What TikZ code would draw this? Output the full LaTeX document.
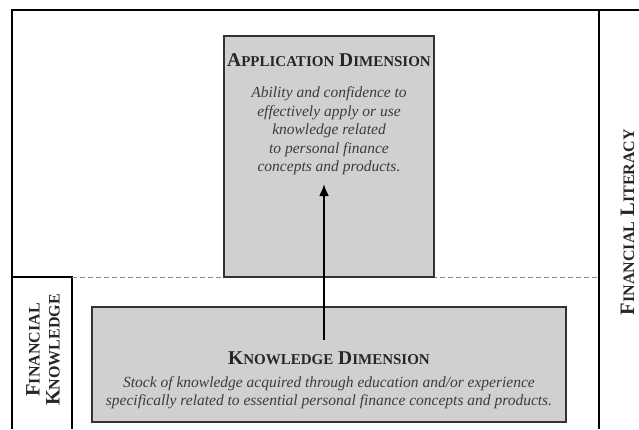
\documentclass[tikz,border=0pt]{standalone}
\usepackage{fontspec}
\setmainfont{Liberation Serif}
\usetikzlibrary{arrows.meta}
\definecolor{boxgray}{HTML}{D0D0D0}
\definecolor{inkgray}{HTML}{3C3C3C}
% fake small caps: big first letter, smaller rest
\newcommand{\smc}[3][15]{#2{\fontsize{#1}{#1}\selectfont #3}}
\begin{document}
\begin{tikzpicture}[x=1pt,y=-1pt,font=\fontsize{15.5}{18.5}\selectfont,
  dimbox/.style={draw=black!80,line width=1.4pt,fill=boxgray,inner sep=0pt},
  dimtitle/.style={font=\fontsize{19.5}{20}\selectfont\bfseries,text=black!85,inner sep=0pt},
  dimtext/.style={font=\fontsize{15.5}{18.5}\selectfont\itshape,text=inkgray,align=center,inner sep=0pt},
  sidelabel/.style={font=\fontsize{20.5}{20}\selectfont\bfseries,text=black!85,rotate=90,align=center,inner sep=0pt}]
\useasboundingbox(0,0)rectangle(639,429);
% frame
\coordinate(frameNW)at(12,10);
\draw[line width=2pt](12,429)--(frameNW)--(639,10);
\draw[line width=2pt](599,10)--(599,429);
% financial knowledge tab
\coordinate(tabNE)at(72,277);
\draw[line width=2pt](12,277)--(tabNE)--(72,429);
\draw[black!45,dashed,dash pattern=on 5pt off 3pt,line width=1pt](tabNE)--(599,277);
% boxes
\node[dimbox,minimum width=210,minimum height=241](appbox)at(329,156.5){};
\node[dimbox,minimum width=474,minimum height=115](knowbox)at(329,364.5){};
\node[dimtitle](apptitle)at(329,60){\smc{A}{PPLICATION} \smc{D}{IMENSION}};
\node[dimtext](apptext)at(329,131){Ability and confidence to\\effectively apply or use\\knowledge related\\to personal finance\\concepts and products.};
\node[dimtitle](knowtitle)at(329,358){\smc{K}{NOWLEDGE} \smc{D}{IMENSION}};
\node[dimtext](knowtext)at(329,392.5){Stock of knowledge acquired through education and/or experience\\specifically related to essential personal finance concepts and products.};
% side labels
\node[sidelabel](litlabel)at(627.5,222){\smc[16]{F}{INANCIAL} \smc[16]{L}{ITERACY}};
\node[sidelabel](knowlabel)at(43,350){\smc[16]{F}{INANCIAL}\\\smc[16]{K}{NOWLEDGE}};
% arrow
\coordinate(arrowfoot)at(324,340);
\coordinate(arrowtip)at(324,184);
\draw[-{Latex[length=12pt,width=10pt]},line width=2.2pt](arrowfoot)--(arrowtip);
\end{tikzpicture}
\end{document}
